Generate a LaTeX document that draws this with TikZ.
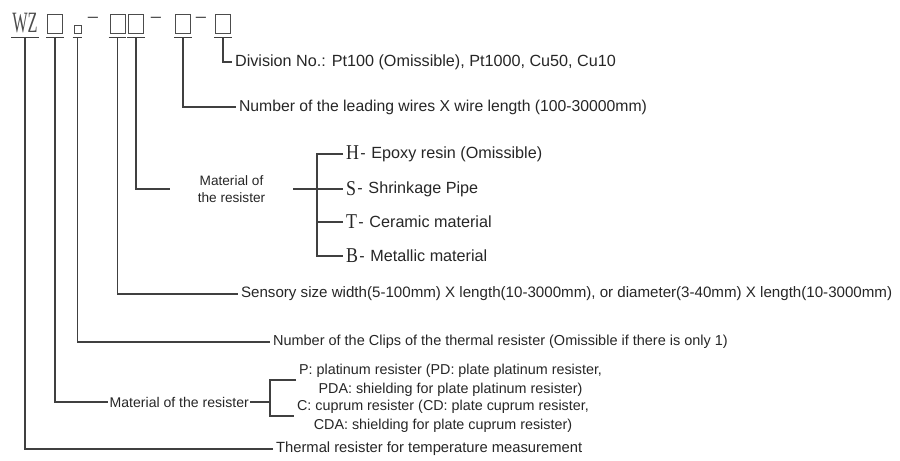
\documentclass[tikz,border=0pt]{standalone}
\usepackage{fontspec}
\usepackage{graphicx}
\setmainfont{Liberation Sans}
\newfontfamily\codefont{Liberation Serif}

\tikzset{
  lead/.style={draw=black!75, line width=0.8pt},
  codebox/.style={draw=black!70, line width=0.6pt, inner sep=0pt,
                  minimum width=0.375cm, minimum height=0.475cm},
  smallbox/.style={draw=black!70, line width=0.6pt, inner sep=0pt,
                   minimum width=0.175cm, minimum height=0.2cm},
  sepdash/.style={inner sep=0pt, text=black!70, font=\fontsize{13}{13}\selectfont},
  desc/.style={anchor=west, inner xsep=2pt, inner ysep=1pt, text=black!85,
               font=\fontsize{10.2}{13.5}\selectfont},
  big/.style={font=\fontsize{11.5}{13.5}\selectfont}
}
\newcommand{\matcode}[1]{\raisebox{-1pt}{\codefont\fontsize{15}{15}\selectfont\scalebox{0.85}[1]{#1}}\hspace{1pt}-\hspace{4pt}}

\begin{document}
\begin{tikzpicture}[x=0.025cm, y=-0.025cm]
  \useasboundingbox (0,0) rectangle (900,460);

  % the type code
  \node[inner sep=0pt, minimum height=0.475cm, text=black!70,
        font=\codefont\fontsize{21}{21}\selectfont] (wz) at (25,23.5) {\scalebox{0.55}[1]{WZ}};
  \node[codebox] (b1) at (55,23.5) {};
  \node[smallbox] (b2) at (77.5,29) {};
  \node[sepdash] (d1) at (93,20) {--};
  \node[codebox] (b3) at (117.5,23.5) {};
  \node[codebox] (b4) at (136,23.5) {};
  \node[sepdash] (d2) at (156,20) {--};
  \node[codebox] (b5) at (183,23.5) {};
  \node[sepdash] (d3) at (201,20) {--};
  \node[codebox] (b6) at (223,23.5) {};

  % bars under the code
  \foreach \b/\n in {wz/0,b1/1,b2/2,b3/3,b4/4,b5/5,b6/6} {
    \draw[lead] ([shift={(-1,4)}]\b.south west) -- ([shift={(1,4)}]\b.south east);
    \coordinate (u\n) at ([shift={(0,4)}]\b.south);
  }

  % explanations
  \node[desc, big] (t6) at (232,62) {Division No.: Pt100 (Omissible), Pt1000, Cu50, Cu10};
  \node[desc, font=\fontsize{11.2}{13.5}\selectfont] (t5) at (236,107) {Number of the leading wires X wire length (100-30000mm)};
  \node[desc, anchor=center, align=center, minimum width=3.075cm,
        font=\fontsize{9.7}{12}\selectfont] (t4) at (231.5,189) {Material of\\the resister};
  \node[desc, font=\fontsize{10.75}{13.5}\selectfont] (t3) at (238,294) {Sensory size width(5-100mm) X length(10-3000mm), or diameter(3-40mm) X length(10-3000mm)};
  \node[desc, font=\fontsize{10.3}{13.5}\selectfont] (t2) at (270,342) {Number of the Clips of the thermal resister (Omissible if there is only 1)};
  \node[desc, inner xsep=1pt, font=\fontsize{10}{12}\selectfont] (t1) at (108,402) {Material of the resister};
  \node[desc, font=\fontsize{10.5}{13.5}\selectfont] (t0) at (273,449) {Thermal resister for temperature measurement};

  % materials of the resister
  \coordinate (k4) at (317,189);
  \node[desc, big] (mH) at (343,154) {\matcode{H}Epoxy resin (Omissible)};
  \node[desc, big] (mS) at (343,189) {\matcode{S}Shrinkage Pipe};
  \node[desc, big] (mT) at (343,222) {\matcode{T}Ceramic material};
  \node[desc, big] (mB) at (343,256) {\matcode{B}Metallic material};

  \coordinate (k1) at (270,402);
  \node[desc, align=center] (tP) at (296,380) {P: platinum resister (PD: plate platinum resister,\\PDA: shielding for plate platinum resister)};
  \node[desc, align=center] (tC) at (294,416) {C: cuprum resister (CD: plate cuprum resister,\\CDA: shielding for plate cuprum resister)};

  % leads
  \foreach \n in {0,1,2,3,4,5,6}
    \draw[lead] (u\n) |- (t\n.west);
  \draw[lead] (t4.east) -- (k4);
  \draw[lead] (mH.west) -| (mB.west -| k4) -- (mB.west);
  \draw[lead] (k4) -- (mS.west);
  \draw[lead] (mT.west -| k4) -- (mT.west);
  \draw[lead] (t1.east) -- (k1);
  \draw[lead] (tP.west) -| (tC.west -| k1) -- (tC.west);
\end{tikzpicture}
\end{document}
